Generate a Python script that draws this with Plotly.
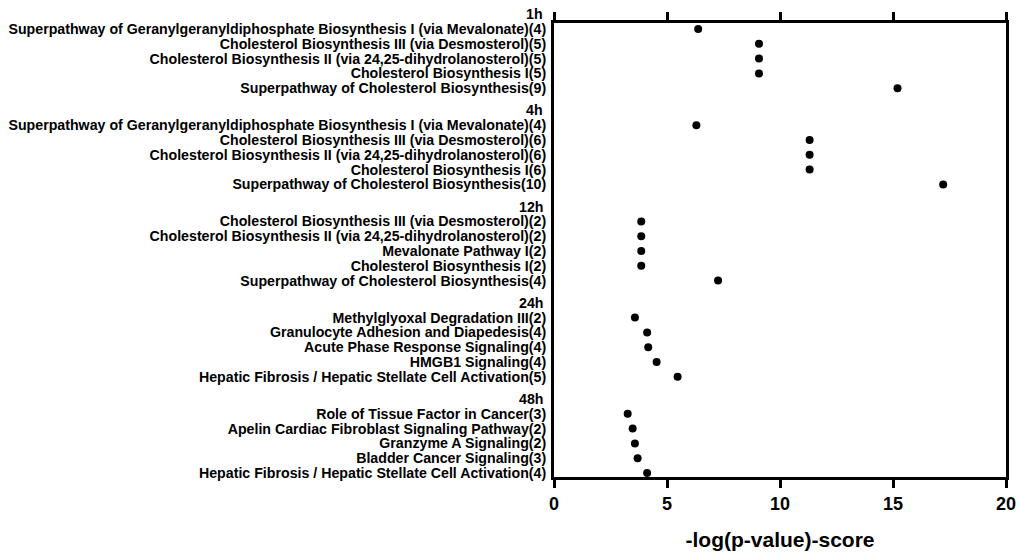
import plotly.graph_objects as go

groups = ["1h", "4h", "12h", "24h", "48h"]
pathways = [
    ["Superpathway of Geranylgeranyldiphosphate Biosynthesis I (via Mevalonate)(4)",
     "Cholesterol Biosynthesis III (via Desmosterol)(5)",
     "Cholesterol Biosynthesis II (via 24,25-dihydrolanosterol)(5)",
     "Cholesterol Biosynthesis I(5)",
     "Superpathway of Cholesterol Biosynthesis(9)"],
    ["Superpathway of Geranylgeranyldiphosphate Biosynthesis I (via Mevalonate)(4)",
     "Cholesterol Biosynthesis III (via Desmosterol)(6)",
     "Cholesterol Biosynthesis II (via 24,25-dihydrolanosterol)(6)",
     "Cholesterol Biosynthesis I(6)",
     "Superpathway of Cholesterol Biosynthesis(10)"],
    ["Cholesterol Biosynthesis III (via Desmosterol)(2)",
     "Cholesterol Biosynthesis II (via 24,25-dihydrolanosterol)(2)",
     "Mevalonate Pathway I(2)",
     "Cholesterol Biosynthesis I(2)",
     "Superpathway of Cholesterol Biosynthesis(4)"],
    ["Methylglyoxal Degradation III(2)",
     "Granulocyte Adhesion and Diapedesis(4)",
     "Acute Phase Response Signaling(4)",
     "HMGB1 Signaling(4)",
     "Hepatic Fibrosis / Hepatic Stellate Cell Activation(5)"],
    ["Role of Tissue Factor in Cancer(3)",
     "Apelin Cardiac Fibroblast Signaling Pathway(2)",
     "Granzyme A Signaling(2)",
     "Bladder Cancer Signaling(3)",
     "Hepatic Fibrosis / Hepatic Stellate Cell Activation(4)"],
]
scores = [
    [6.38, 9.07, 9.07, 9.07, 15.2],
    [6.3, 11.31, 11.31, 11.31, 17.22],
    [3.86, 3.86, 3.86, 3.86, 7.26],
    [3.58, 4.12, 4.17, 4.54, 5.47],
    [3.26, 3.48, 3.58, 3.70, 4.12],
]
x_ticks = [0, 5, 10, 15, 20]

FONT = "Liberation Sans, Arial, sans-serif"
LABEL_SIZE = 14.2
GROUP_STEP = 6.5

last = (len(groups) - 1) * GROUP_STEP + 5
y_range = [last + 0.27, 0.594]

xs, ys, tickvals, ticktext = [], [], [], []
annotations = []
for g, (name, labels, vals) in enumerate(zip(groups, pathways, scores)):
    base = g * GROUP_STEP
    frac = (y_range[0] - base) / (y_range[0] - y_range[1])
    annotations.append(dict(
        x=0, xref="paper", y=frac, yref="paper", text="<b>%s</b>" % name,
        showarrow=False, xanchor="right", yanchor="middle", xshift=-9,
        font=dict(family=FONT, size=LABEL_SIZE, color="black")))
    for i, (lab, v) in enumerate(zip(labels, vals)):
        pos = base + 1 + i
        xs.append(v)
        ys.append(pos)
        tickvals.append(pos)
        ticktext.append("<b>%s</b>" % lab)

fig = go.Figure(go.Scatter(
    x=xs, y=ys, mode="markers",
    marker=dict(color="black", size=8),
    cliponaxis=False, showlegend=False))

fig.update_layout(
    width=1019, height=553,
    margin=dict(l=554, r=13, t=23, b=76),
    paper_bgcolor="white", plot_bgcolor="white",
    annotations=annotations,
    font=dict(family=FONT, color="black"),
)
fig.update_xaxes(
    range=[0, 20], tickvals=x_ticks, ticktext=["<b>%d</b>" % t for t in x_ticks],
    showgrid=False, zeroline=False, automargin=False,
    showline=True, linecolor="black", linewidth=3, mirror="ticks",
    ticks="outside", ticklen=8, tickwidth=3, tickcolor="black",
    tickfont=dict(family=FONT, size=18, color="black"),
    title=dict(text="<b>-log(p-value)-score</b>", font=dict(family=FONT, size=21, color="black"),
               standoff=20),
)
fig.update_yaxes(
    range=y_range,
    tickvals=tickvals, ticktext=ticktext, automargin=False,
    showgrid=False, zeroline=False,
    showline=True, linecolor="black", linewidth=3, mirror=True,
    ticks="", ticklabelstandoff=2,
    tickfont=dict(family=FONT, size=LABEL_SIZE, color="black"),
)
fig.write_html("out.html")
